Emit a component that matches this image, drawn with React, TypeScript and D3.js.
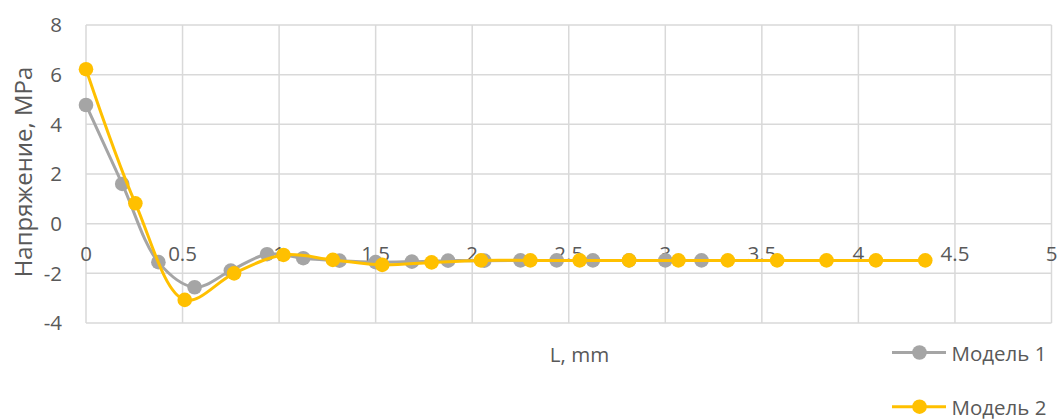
import React from "react";
import * as d3 from "d3";

const model1X = [0, 0.1875, 0.375, 0.5625, 0.75, 0.9375, 1.125, 1.3125, 1.5, 1.6875, 1.875, 2.0625, 2.25, 2.4375, 2.625, 2.8125, 3.0, 3.1875];
const model1Y = [4.78, 1.6, -1.55, -2.56, -1.89, -1.23, -1.39, -1.49, -1.55, -1.53, -1.49, -1.49, -1.48, -1.48, -1.48, -1.48, -1.48, -1.48];
const model2X = [0, 0.2557, 0.5113, 0.767, 1.0226, 1.2783, 1.534, 1.7896, 2.0453, 2.301, 2.5566, 2.8123, 3.0679, 3.3236, 3.5793, 3.8349, 4.0906, 4.3462];
const model2Y = [6.22, 0.82, -3.07, -2.0, -1.26, -1.46, -1.66, -1.56, -1.48, -1.48, -1.48, -1.48, -1.48, -1.48, -1.48, -1.48, -1.48, -1.48];
const xTicks = [0, 0.5, 1, 1.5, 2, 2.5, 3, 3.5, 4, 4.5, 5];
const yTicks = [-4, -2, 0, 2, 4, 6, 8];
const seriesNames = ["Модель 1", "Модель 2"];
const seriesColors = ["#a5a5a5", "#ffc000"];

const W = 1059;
const H = 420;
const FONT = "'Open Sans', sans-serif";
const TXT = "#595959";
const FS = 20.5;

export default function App() {
  const x = d3.scaleLinear().domain([0, 5]).range([86, 1051.5]);
  const y = d3.scaleLinear().domain([-4, 8]).range([323, 25]);
  const line = d3
    .line<[number, number]>()
    .x((d) => x(d[0]))
    .y((d) => y(d[1]))
    .curve(d3.curveCatmullRom.alpha(0.5));
  const series = [
    model1X.map((v, i) => [v, model1Y[i]] as [number, number]),
    model2X.map((v, i) => [v, model2Y[i]] as [number, number]),
  ];
  const legendY = [352.5, 406.7];
  return (
    <svg width={W} height={H} style={{ position: "absolute", left: 0, top: 0 }} fontFamily={FONT}>
      <rect x={0} y={0} width={W} height={H} fill="#fff" />
      {yTicks.map((t) => (
        <line key={"h" + t} x1={x(0)} x2={x(5)} y1={y(t)} y2={y(t)} stroke="#d9d9d9" strokeWidth={1.5} />
      ))}
      {xTicks.map((t) => (
        <line key={"v" + t} x1={x(t)} x2={x(t)} y1={y(8)} y2={y(-4)} stroke="#d9d9d9" strokeWidth={1.5} />
      ))}
      {yTicks.map((t) => (
        <text key={"yl" + t} x={62} y={y(t)} dy="0.36em" textAnchor="end" fontSize={FS} fill={TXT}>
          {t}
        </text>
      ))}
      {xTicks.map((t) => (
        <text key={"xl" + t} x={x(t)} y={261} textAnchor="middle" fontSize={FS} fill={TXT}>
          {t}
        </text>
      ))}
      {series.map((s, i) => (
        <g key={"s" + i}>
          <path d={line(s) || ""} fill="none" stroke={seriesColors[i]} strokeWidth={3} />
          {s.map((d, j) => (
            <circle key={j} cx={x(d[0])} cy={y(d[1])} r={7.3} fill={seriesColors[i]} />
          ))}
        </g>
      ))}
      <text x={579.5} y={361.5} textAnchor="middle" fontSize={FS} fill={TXT}>
        L, mm
      </text>
      <text transform={`translate(32,172) rotate(-90)`} textAnchor="middle" fontSize={24} fill={TXT}>
        Напряжение, MPa
      </text>
      {seriesNames.map((n, i) => (
        <g key={"lg" + i}>
          <line x1={892} x2={946} y1={legendY[i]} y2={legendY[i]} stroke={seriesColors[i]} strokeWidth={3} />
          <circle cx={919.5} cy={legendY[i]} r={7.3} fill={seriesColors[i]} />
          <text x={951.5} y={legendY[i] + 8.4} fontSize={FS} fill={TXT}>
            {n}
          </text>
        </g>
      ))}
    </svg>
  );
}
